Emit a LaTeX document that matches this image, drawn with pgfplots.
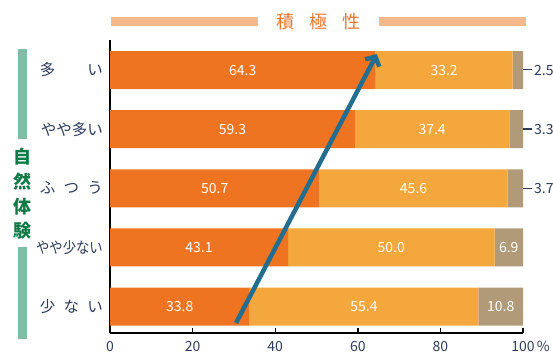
\documentclass[border=0pt]{standalone}
\usepackage{pgfplots}
\pgfplotsset{compat=1.18}
\usepackage{pgfplotstable}
\usepackage{fontspec}
\setmainfont{Noto Sans CJK JP}
\usetikzlibrary{arrows.meta}
\definecolor{dorange}{HTML}{EE7421}
\definecolor{lorange}{HTML}{F4A73C}
\definecolor{tanc}{HTML}{B09A78}
\definecolor{navy}{HTML}{2D3B5C}
\definecolor{arrowblue}{HTML}{236E8E}
\definecolor{titleor}{HTML}{E8772E}
\definecolor{titleline}{HTML}{F4B88A}
\definecolor{gbar}{HTML}{80BCA6}
\definecolor{gtext}{HTML}{0E7A45}

\pgfplotstableread{
y a b c
0 33.8 55.4 10.8
1 43.1 50.0 6.9
2 50.7 45.6 3.7
3 59.3 37.4 3.3
4 64.3 33.2 2.5
}\data

\pgfplotsset{common/.style={scale only axis, width=413pt, height=293pt,
  xmin=0, xmax=100, ymin=-0.448, ymax=4.509,
  at={(110pt,23pt)}, anchor=south west}}

\newcommand{\spreadbox}[2]{\hbox to #1{#2}}
\begin{document}
\begin{tikzpicture}
\path[use as bounding box] (0pt,0pt) rectangle (553pt,356pt);
% title
\draw[titleline, line width=9pt] (111pt,334pt) -- (258pt,334pt);
\draw[titleline, line width=9pt] (379pt,334pt) -- (526pt,334pt);
\node[titleor, font=\fontsize{18}{20}\selectfont, inner sep=0pt] at (318.5pt,334pt) {積\hspace{15pt}極\hspace{15pt}性};
% left green
\fill[gbar] (18pt,307pt) rectangle (27pt,217pt);
\fill[gbar] (18pt,109pt) rectangle (27pt,17pt);
\foreach \c/\yy in {自/199,然/174,体/149,験/125}
  \node[gtext, font=\fontsize{18}{20}\selectfont\bfseries, inner sep=0pt] at (22.5pt,\yy pt) {\c};

\begin{axis}[common, xbar stacked, bar width=38pt,
  axis x line*=bottom, axis y line*=left,
  axis line style={line width=1.6pt, -},
  xtick={0,20,...,100},
  xticklabels={0,20,40,60,80,100\rlap{\,\%}},
  xtick align=inside, major tick length=5pt,
  x tick style={line width=1.4pt, black},
  ytick={0,...,4},
  yticklabels={\spreadbox{63pt}{少\hfill な\hfill い},{\scalebox{0.86}[1]{やや少ない}},\spreadbox{63pt}{ふ\hfill つ\hfill う},やや多い,\spreadbox{63pt}{多\hfill い}},
  y tick style={draw=none},
  yticklabel style={font=\fontsize{15.5}{17}\selectfont, color=navy, inner sep=0pt, anchor=east, xshift=-7pt},
  xticklabel style={font=\fontsize{14}{16}\selectfont, color=navy, inner sep=0pt, anchor=north, yshift=-8pt},
  /pgf/number format/assume math mode=true,
]
\addplot[fill=dorange, draw=none] table[x=a, y=y] {\data};
\addplot[fill=lorange, draw=none] table[x=b, y=y] {\data};
\addplot[fill=tanc, draw=none] table[x=c, y=y] {\data};
\end{axis}

\begin{axis}[common, hide axis, clip=false]
\addplot[draw=none, mark=none, nodes near coords, point meta=explicit symbolic,
  every node near coord/.append style={white, font=\fontsize{14}{16}\selectfont, anchor=center, inner sep=0pt}]
  table[x=x, y=y, meta=l] {
x y l
32.15 4 64.3
80.9 4 33.2
29.65 3 59.3
78.0 3 37.4
25.35 2 50.7
73.5 2 45.6
21.55 1 43.1
68.1 1 50.0
96.55 1 6.9
16.9 0 33.8
61.5 0 55.4
94.6 0 10.8
};
\addplot[draw=none, mark=none, point meta=explicit symbolic,
  nodes near coords={\textcolor{navy}{\rule[4.6pt]{9pt}{1.1pt}}\hspace{2pt}\pgfplotspointmeta},
  every node near coord/.append style={navy, font=\fontsize{14}{16}\selectfont, anchor=west, inner sep=0pt}]
  table[x=x, y=y, meta=l] {
x y l
100 4 2.5
100 3 3.3
100 2 3.7
};
\addplot[arrowblue, line width=4.5pt, -{Straight Barb[length=7pt, width=16pt, line width=4.5pt]}]
  coordinates {(30.5,-0.28) (64.6,4.27)};
\end{axis}
\end{tikzpicture}
\end{document}
